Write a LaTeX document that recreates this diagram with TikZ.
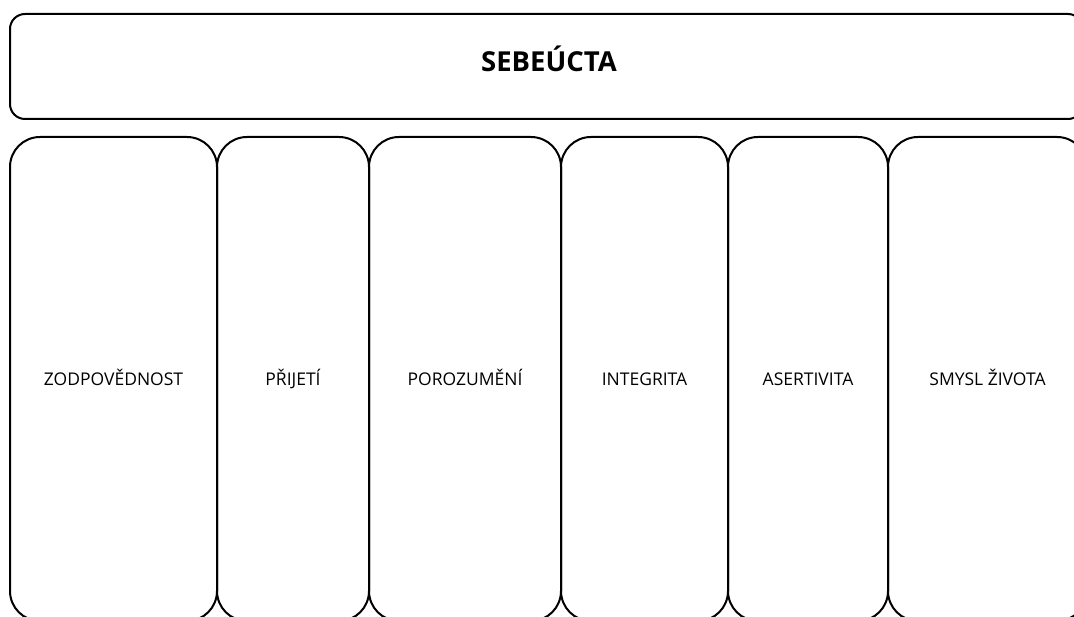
\documentclass[tikz,border=0pt]{standalone}
\usepackage{fontspec}
\setmainfont{Open Sans}
\begin{document}
\begin{tikzpicture}[x=1pt,y=-1pt,
  boxline/.style={draw=black,line width=2pt},
  colbox/.style={boxline,rounded corners=30pt},
  lbl/.style={font=\fontsize{17.5}{20}\selectfont,anchor=base,inner sep=0pt}]
\useasboundingbox (0,0) rectangle (1074,617);
\clip (0,0) rectangle (1074,617);
\draw[boxline,rounded corners=15pt] (10,14) rectangle (1083,119);
\node[font=\bfseries\fontsize{27.5}{32}\selectfont,inner sep=0pt,anchor=base] (title) at (549,72) {SEBEÚCTA};
\foreach \l/\r/\t/\n in {10/217/ZODPOVĚDNOST/c1,217/369/PŘIJETÍ/c2,369/561/POROZUMĚNÍ/c3,561/728/INTEGRITA/c4,728/888/ASERTIVITA/c5,888/1087/SMYSL ŽIVOTA/c6}{
  \draw[colbox] (\l,137) rectangle (\r,621);
  \node[lbl] (\n) at ({(\l+\r)/2},385.5) {\t};
}
\end{tikzpicture}
\end{document}
